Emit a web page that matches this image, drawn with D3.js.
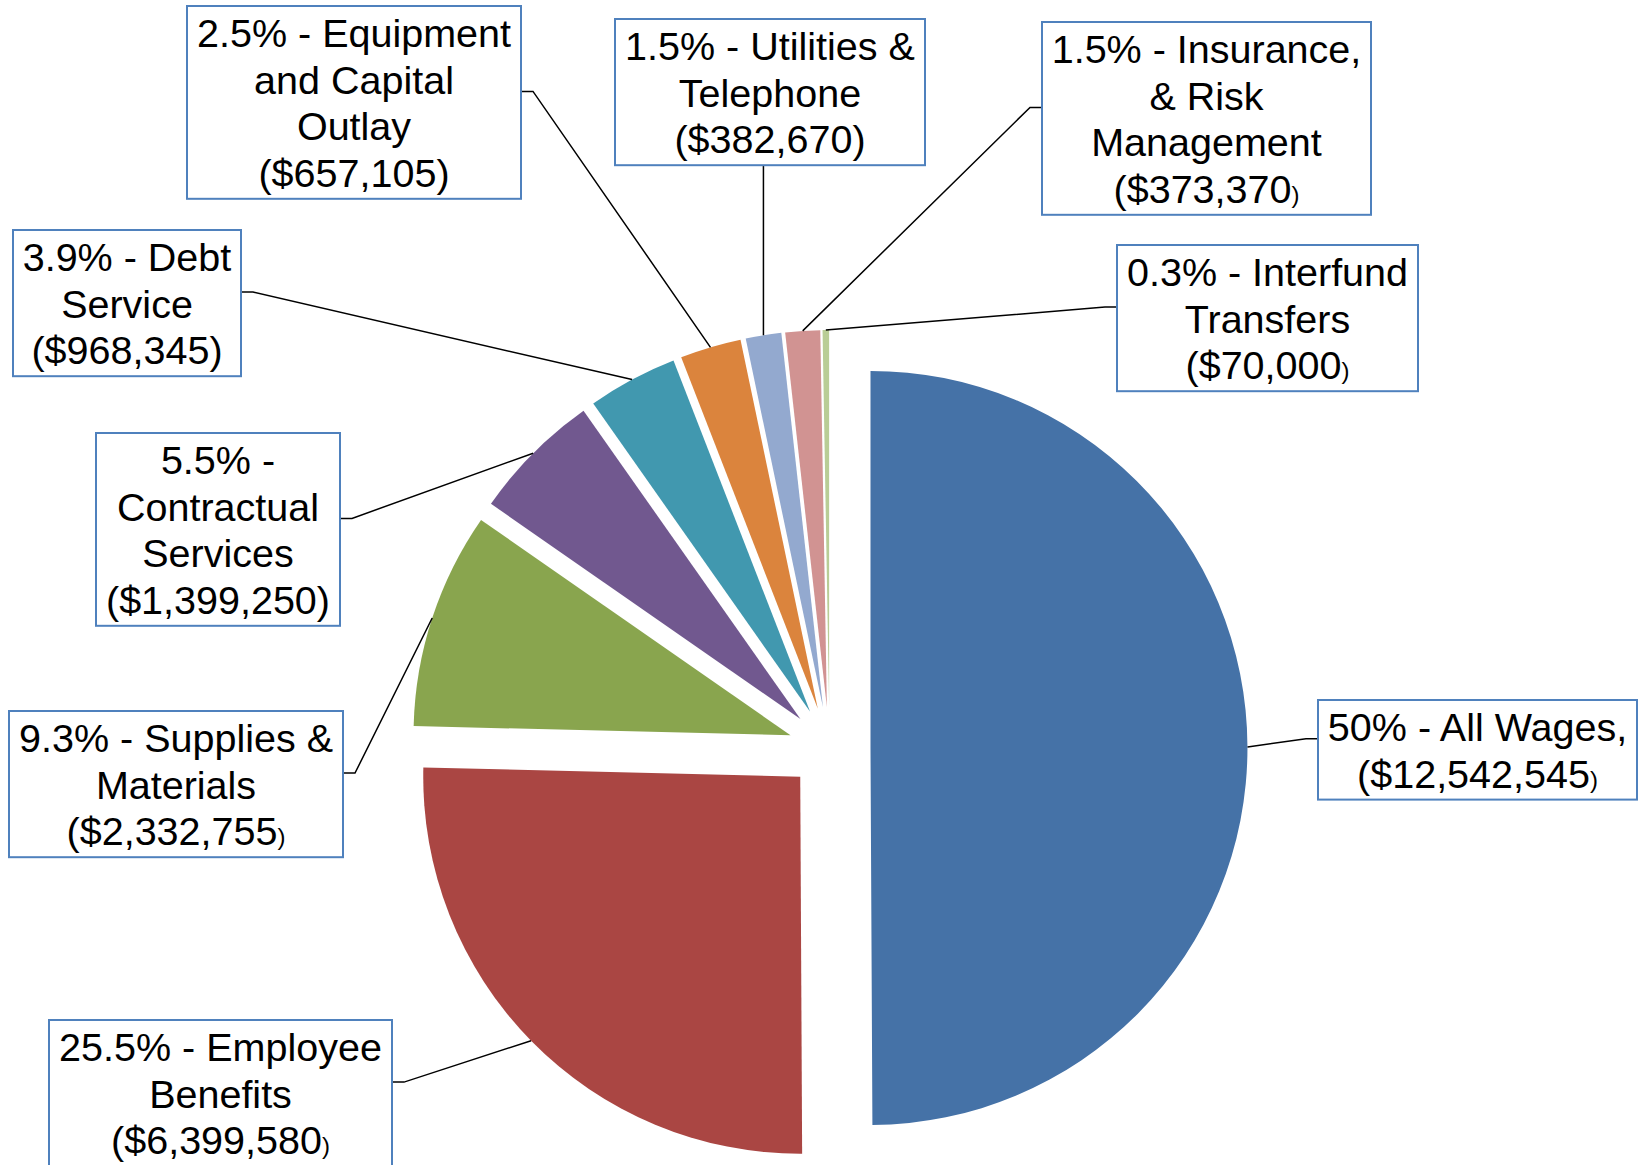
<!DOCTYPE html>
<html>
<head>
<meta charset="utf-8">
<script src="https://cdn.jsdelivr.net/npm/d3@7"></script>
<style>
  html, body { margin: 0; padding: 0; background: #ffffff; }
  svg { display: block; }
</style>
</head>
<body>
<div id="chart"></div>
<script>
// ---------------- DATA ----------------
const categories = [
  "All Wages,",
  "Employee\nBenefits",
  "Supplies &\nMaterials",
  "\nContractual\nServices",
  "Debt\nService",
  "Equipment\nand Capital\nOutlay",
  "Utilities &\nTelephone",
  "Insurance,\n& Risk\nManagement",
  "Interfund\nTransfers"
];
const values = [12542545, 6399580, 2332755, 1399250, 968345, 657105, 382670, 373370, 70000];
const pctLabels = ["50%", "25.5%", "9.3%", "5.5%", "3.9%", "2.5%", "1.5%", "1.5%", "0.3%"];

// ---------------- STYLE / LAYOUT ----------------
const colors = ["#4572A7", "#AA4643", "#89A54E", "#71588F", "#4198AF",
                "#DB843D", "#93A9CF", "#D19392", "#B9CD96"];
const smallParen = [true, true, true, false, false, false, false, true, true];
// label boxes: x, y, width (height follows from the number of lines)
const boxLayout = [
  {x: 1318, y: 700, w: 319},
  {x: 49,   y: 1020, w: 343},
  {x: 9,    y: 711, w: 334},
  {x: 96,   y: 433, w: 244},
  {x: 13,   y: 230, w: 228},
  {x: 187,  y: 6,   w: 334},
  {x: 615,  y: 19,  w: 310},
  {x: 1042, y: 22,  w: 329},
  {x: 1117, y: 245, w: 301}
];

const W = 1644, H = 1165;
const cx = 829.5, cy = 748;
const R = 377, explode = 41;
const fontSize = 39.5, lineH = 46.6, firstBase = 41, boxPadBottom = 12;
const fontFamily = "'Liberation Sans', Arial, Helvetica, sans-serif";

const svg = d3.select("#chart").append("svg")
  .attr("width", W).attr("height", H)
  .attr("viewBox", `0 0 ${W} ${H}`);
svg.append("rect").attr("width", W).attr("height", H).attr("fill", "#ffffff");

const pie = d3.pie().sort(null).startAngle(0).endAngle(2 * Math.PI).value(d => d);
const arcs = pie(values);
const arc = d3.arc().innerRadius(0).outerRadius(R);
const leaderArc = d3.arc().innerRadius(R + explode).outerRadius(R + explode);

const g = svg.append("g").attr("transform", `translate(${cx},${cy})`);

// slices, each pushed out along its bisector
g.selectAll("path.slice")
  .data(arcs)
  .join("path")
  .attr("class", "slice")
  .attr("d", arc)
  .attr("fill", (d, i) => colors[i])
  .attr("transform", d => {
    const m = (d.startAngle + d.endAngle) / 2;
    return `translate(${explode * Math.sin(m)},${-explode * Math.cos(m)})`;
  });

const fmt = d3.format(",");

// build label lines
const labels = arcs.map((d, i) => {
  const parts = categories[i].split("\n");
  const first = (pctLabels[i] + " - " + parts[0]).trim();
  const lines = [first, ...parts.slice(1), "($" + fmt(values[i])];
  const lb = boxLayout[i];
  const h = firstBase + (lines.length - 1) * lineH + boxPadBottom;
  return {i, lines, x: lb.x, y: lb.y, w: lb.w, h, arcD: d};
});

// leader lines
const leaders = svg.append("g");
labels.forEach(l => {
  const p = leaderArc.centroid(l.arcD);
  const px = cx + p[0], py = cy + p[1];
  let pts;
  if (px >= l.x && px <= l.x + l.w && py > l.y + l.h) {
    pts = [[px, l.y + l.h], [px, py]];
  } else {
    const ly = l.y + l.h / 2 - 11;
    if (px < l.x) {
      pts = [[l.x, ly], [l.x - 12, ly], [px, py]];
    } else {
      pts = [[l.x + l.w, ly], [l.x + l.w + 12, ly], [px, py]];
    }
  }
  leaders.append("path")
    .attr("d", d3.line()(pts))
    .attr("fill", "none")
    .attr("stroke", "#000000")
    .attr("stroke-width", 1.5);
});

// label boxes
const lg = svg.append("g");
labels.forEach(l => {
  const gg = lg.append("g");
  gg.append("rect")
    .attr("x", l.x).attr("y", l.y)
    .attr("width", l.w).attr("height", l.h)
    .attr("fill", "#ffffff")
    .attr("stroke", "#4F81BD")
    .attr("stroke-width", 2);
  l.lines.forEach((t, k) => {
    const isLast = k === l.lines.length - 1;
    const txt = gg.append("text")
      .attr("x", l.x + l.w / 2)
      .attr("y", l.y + firstBase + k * lineH)
      .attr("text-anchor", "middle")
      .attr("font-family", fontFamily)
      .attr("font-size", fontSize)
      .attr("fill", "#000000");
    if (isLast) {
      txt.append("tspan").text(t);
      txt.append("tspan")
        .attr("font-size", smallParen[l.i] ? 24 : fontSize)
        .text(")");
    } else {
      txt.text(t);
    }
  });
});
</script>
</body>
</html>
